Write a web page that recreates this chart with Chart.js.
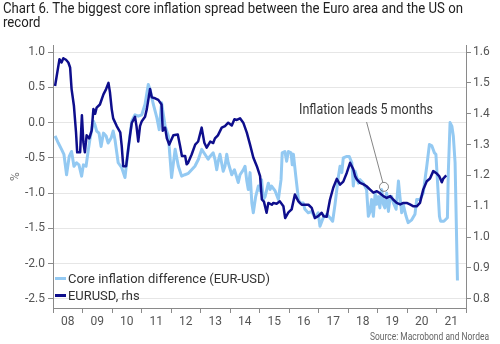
<!DOCTYPE html>
<html>
<head>
<meta charset="utf-8">
<script src="https://cdn.jsdelivr.net/npm/chart.js@4.4.0/dist/chart.umd.min.js"></script>
<style>
  html, body { margin: 0; padding: 0; background: #fff; }
  #wrap { position: relative; width: 500px; height: 344px; overflow: hidden; font-family: Roboto, 'Open Sans', sans-serif; }
  #c { position: absolute; left: 0; top: 0; }
  #title { position: absolute; left: 3px; top: 1px; font-size: 14px; line-height: 14px; color: #222; font-weight: 400; }
  #title div { white-space: nowrap; }
  .fit { display: inline-block; transform-origin: 0 50%; white-space: nowrap; }
  #legend { position: absolute; left: 55px; top: 270px; font-size: 13px; color: #333; }
  .li { display: flex; align-items: center; height: 17px; white-space: nowrap; }
  .sw { display: inline-block; width: 11px; height: 3px; margin-right: 2px; }
  #source { position: absolute; left: 370px; top: 330px; font-size: 10px; line-height: 14px; color: #666; }
</style>
</head>
<body>
<div id="wrap">
  <canvas id="c" width="500" height="344" style="width:500px;height:344px"></canvas>
  <div id="title">
    <div><span class="fit" id="t1">Chart 6. The biggest core inflation spread between the Euro area and the US on</span></div>
    <div><span class="fit" id="t2">record</span></div>
  </div>
  <div id="legend"></div>
  <div id="source"><span class="fit" id="src">Source: Macrobond and Nordea</span></div>
</div>
<script>
// ---------- data ----------
const seriesNames = ['Core inflation difference (EUR-USD)', 'EURUSD, rhs'];

// Core inflation difference, EUR minus US (%), left axis
const inflDates = [2008.07,2008.18,2008.29,2008.37,2008.46,2008.55,2008.63,2008.71,2008.80,2008.88,
  2008.97,2009.03,2009.12,2009.20,2009.25,2009.37,2009.42,2009.48,2009.56,2009.63,
  2009.71,2009.80,2009.87,2009.97,2010.04,2010.10,2010.21,2010.33,2010.44,2010.55,
  2010.67,2010.78,2010.89,2011.01,2011.12,2011.23,2011.29,2011.40,2011.52,2011.60,
  2011.68,2011.80,2011.91,2012.02,2012.14,2012.25,2012.36,2012.47,2012.59,2012.70,
  2012.81,2012.93,2013.04,2013.15,2013.26,2013.32,2013.43,2013.49,2013.55,2013.60,
  2013.66,2013.77,2013.83,2013.89,2013.94,2014.06,2014.15,2014.23,2014.28,2014.34,
  2014.45,2014.51,2014.57,2014.62,2014.68,2014.74,2014.79,2014.87,2014.96,2015.02,
  2015.07,2015.13,2015.19,2015.30,2015.36,2015.41,2015.53,2015.64,2015.73,2015.77,
  2015.86,2015.92,2015.98,2016.07,2016.11,2016.15,2016.23,2016.32,2016.37,2016.48,
  2016.54,2016.65,2016.77,2016.88,2016.99,2017.05,2017.16,2017.28,2017.39,2017.48,
  2017.56,2017.67,2017.73,2017.79,2017.84,2017.96,2018.04,2018.13,2018.18,2018.24,
  2018.29,2018.35,2018.41,2018.52,2018.63,2018.69,2018.75,2018.80,2018.86,2018.92,
  2018.97,2019.03,2019.08,2019.14,2019.20,2019.25,2019.31,2019.37,2019.42,2019.48,
  2019.54,2019.63,2019.71,2019.76,2019.82,2019.87,2019.97,2020.04,2020.16,2020.27,
  2020.33,2020.44,2020.55,2020.67,2020.76,2020.84,2020.93,2020.98,2021.03,2021.10,
  2021.14,2021.25,2021.37,2021.40,2021.46,2021.52,2021.57,2021.63,2021.71];
const inflValues = [-0.19,-0.29,-0.38,-0.45,-0.74,-0.48,-0.41,-0.62,-0.57,-0.60,
  -0.76,-0.60,-0.62,-0.38,-0.24,0.02,-0.03,-0.12,-0.15,-0.34,
  -0.15,-0.19,-0.29,-0.22,-0.12,-0.24,-0.57,-0.64,-0.78,-0.38,
  0.02,0.11,0.09,0.11,0.26,0.54,0.47,0.26,0.07,-0.10,
  0.28,-0.05,-0.19,-0.78,-0.38,-0.62,-0.76,-0.74,-0.72,-0.67,
  -0.62,-0.52,-0.38,-0.45,-0.52,-0.48,-0.43,-0.52,-0.67,-0.55,
  -0.45,-0.69,-0.62,-0.45,-0.57,-0.74,-0.67,-0.78,-0.85,-0.74,
  -0.67,-0.62,-0.83,-0.95,-0.71,-1.14,-1.28,-1.05,-0.90,-0.97,
  -0.81,-1.09,-1.05,-0.86,-0.95,-0.90,-0.97,-1.09,-0.81,-0.43,
  -0.41,-0.55,-0.41,-0.43,-0.60,-0.45,-0.76,-1.09,-1.14,-1.14,
  -1.23,-1.28,-1.26,-1.35,-1.28,-1.47,-1.35,-1.30,-1.35,-1.40,
  -1.16,-0.78,-0.62,-0.71,-0.50,-0.48,-0.48,-0.57,-0.90,-0.69,
  -0.76,-0.86,-0.81,-0.86,-0.95,-1.33,-1.26,-1.09,-1.33,-1.00,
  -1.16,-1.05,-1.21,-0.95,-1.16,-1.21,-1.00,-1.26,-1.09,-1.05,
  -1.14,-1.23,-0.83,-1.05,-1.28,-1.16,-1.33,-1.42,-1.38,-1.30,
  -1.09,-1.09,-1.00,-0.62,-0.31,-0.33,-0.43,-0.45,-0.81,-1.33,
  -1.40,-1.40,-1.35,-0.71,0.00,-0.05,-0.19,-0.57,-2.24];

// EURUSD exchange rate, right axis
const fxDates = [2008.07,2008.22,2008.29,2008.35,2008.44,2008.52,2008.58,2008.63,2008.71,2008.78,
  2008.82,2008.92,2008.98,2009.03,2009.08,2009.14,2009.23,2009.31,2009.37,2009.43,
  2009.48,2009.59,2009.71,2009.80,2009.88,2009.93,2009.99,2010.04,2010.16,2010.28,
  2010.33,2010.38,2010.48,2010.55,2010.61,2010.67,2010.78,2010.83,2010.89,2010.95,
  2011.01,2011.12,2011.18,2011.29,2011.35,2011.46,2011.57,2011.68,2011.72,2011.80,
  2011.86,2011.94,2012.08,2012.23,2012.31,2012.37,2012.48,2012.53,2012.58,2012.70,
  2012.82,2012.92,2013.04,2013.13,2013.21,2013.33,2013.43,2013.49,2013.59,2013.72,
  2013.83,2013.94,2014.06,2014.15,2014.23,2014.34,2014.45,2014.57,2014.68,2014.79,
  2014.91,2015.02,2015.08,2015.15,2015.24,2015.30,2015.42,2015.47,2015.58,2015.69,
  2015.81,2015.87,2015.98,2016.09,2016.20,2016.32,2016.43,2016.54,2016.66,2016.77,
  2016.88,2016.99,2017.11,2017.17,2017.28,2017.39,2017.50,2017.62,2017.73,2017.84,
  2017.96,2018.07,2018.18,2018.24,2018.30,2018.41,2018.53,2018.63,2018.75,2018.86,
  2018.98,2019.06,2019.20,2019.31,2019.43,2019.53,2019.65,2019.77,2019.88,2019.99,
  2020.10,2020.22,2020.33,2020.44,2020.55,2020.67,2020.78,2020.89,2021.01,2021.09,
  2021.18,2021.23,2021.33];
const fxValues = [1.49,1.577,1.566,1.58,1.575,1.566,1.55,1.48,1.425,1.34,
  1.275,1.275,1.395,1.307,1.275,1.33,1.32,1.345,1.415,1.40,
  1.42,1.43,1.463,1.48,1.50,1.47,1.415,1.385,1.36,1.34,
  1.295,1.23,1.23,1.285,1.33,1.37,1.39,1.36,1.31,1.36,
  1.376,1.39,1.415,1.48,1.453,1.45,1.445,1.43,1.345,1.355,
  1.32,1.30,1.33,1.333,1.295,1.263,1.263,1.236,1.241,1.268,
  1.30,1.31,1.355,1.306,1.29,1.31,1.305,1.32,1.33,1.355,
  1.36,1.371,1.362,1.382,1.38,1.385,1.371,1.339,1.30,1.258,
  1.23,1.198,1.122,1.115,1.079,1.111,1.105,1.111,1.108,1.116,
  1.10,1.062,1.08,1.09,1.138,1.116,1.105,1.105,1.105,1.095,
  1.062,1.068,1.079,1.068,1.066,1.122,1.16,1.189,1.17,1.18,
  1.209,1.241,1.22,1.198,1.187,1.176,1.171,1.165,1.154,1.144,
  1.149,1.144,1.133,1.127,1.133,1.122,1.111,1.106,1.111,1.111,
  1.106,1.100,1.10,1.111,1.154,1.181,1.19,1.214,1.206,1.198,
  1.178,1.19,1.20];

// tick values
const yearTicks = [2008,2009,2010,2011,2012,2013,2014,2015,2016,2017,2018,2019,2020,2021,2022];
const leftTicks = [-2.5,-2.0,-1.5,-1.0,-0.5,0.0,0.5,1.0];
const rightTicks = [0.8,0.9,1.0,1.1,1.2,1.3,1.4,1.5,1.6];

// annotation (data coordinates: year, EURUSD)
const note = { text: 'Inflation leads 5 months', x: 2018.61, y: 1.411, lineX: 2018.63, lineY: 1.373, ringX: 2019.22, ringY: 1.163 };

// ---------- style ----------
const LIGHT = '#93c9f2';
const DARK = '#0e0e8c';
const AXIS = '#8a8a8a';
const GRID = '#e6e6e6';
const TICKTXT = '#555';

// axis ranges (left and right linked: -2.5 <-> 0.8, 1.0 <-> 1.6)
const Y_MIN = -2.63, Y_MAX = 1.1;
const k = (1.6 - 0.8) / (1.0 - (-2.5));
const R_MIN = 0.8 + (Y_MIN + 2.5) * k, R_MAX = 1.6 + (Y_MAX - 1.0) * k;

Chart.defaults.font.family = "Roboto, 'Open Sans', sans-serif";
Chart.defaults.font.size = 12;

const setTicks = vals => scale => { scale.ticks = vals.map(v => ({ value: v })); };

const notePlugin = {
  id: 'note',
  afterDatasetsDraw(chart) {
    const ctx = chart.ctx, xs = chart.scales.x, ys = chart.scales.y1;
    const tx = xs.getPixelForValue(note.x), ty = ys.getPixelForValue(note.y);
    const lx = xs.getPixelForValue(note.lineX), ly = ys.getPixelForValue(note.lineY);
    const cx = xs.getPixelForValue(note.ringX), cy = ys.getPixelForValue(note.ringY);
    const r = 4.5;
    ctx.save();
    const dx = cx - lx, dy = cy - ly, d = Math.hypot(dx, dy);
    ctx.strokeStyle = '#666';
    ctx.lineWidth = 0.8;
    ctx.beginPath();
    ctx.moveTo(lx, ly);
    ctx.lineTo(cx - dx / d * r, cy - dy / d * r);
    ctx.stroke();
    ctx.beginPath();
    ctx.arc(cx, cy, r, 0, Math.PI * 2);
    ctx.stroke();
    ctx.font = "14px Roboto, 'Open Sans', sans-serif";
    ctx.fillStyle = '#333';
    ctx.textAlign = 'center';
    ctx.textBaseline = 'middle';
    const w = ctx.measureText(note.text).width;
    ctx.translate(tx, ty);
    ctx.scale(134 / w, 1);
    ctx.fillText(note.text, 0, 0);
    ctx.restore();
  }
};

const chart = new Chart(document.getElementById('c'), {
  type: 'line',
  data: {
    datasets: [
      { label: seriesNames[0], data: inflDates.map((d, i) => ({ x: d, y: inflValues[i] })), yAxisID: 'y',
        borderColor: LIGHT, backgroundColor: LIGHT, borderWidth: 3, pointRadius: 0, tension: 0, order: 2, borderJoinStyle: 'round' },
      { label: seriesNames[1], data: fxDates.map((d, i) => ({ x: d, y: fxValues[i] })), yAxisID: 'y1',
        borderColor: DARK, backgroundColor: DARK, borderWidth: 2.5, pointRadius: 0, tension: 0, order: 1, borderJoinStyle: 'round' }
    ]
  },
  options: {
    responsive: false, animation: false, devicePixelRatio: 1,
    layout: { padding: { top: 45, left: 0, right: 0, bottom: 0 } },
    plugins: { legend: { display: false }, tooltip: { enabled: false } },
    scales: {
      x: {
        type: 'linear', min: 2008, max: 2022,
        afterBuildTicks: setTicks(yearTicks),
        afterFit(s) { s.height = 36; },
        ticks: { autoSkip: false, maxRotation: 0, labelOffset: 14.75, padding: 2, color: TICKTXT,
          callback: v => (Math.round(v) >= 2022 ? '' : String(Math.round(v) % 100).padStart(2, '0')) },
        grid: { drawOnChartArea: false, drawTicks: true, tickLength: 5, tickColor: AXIS },
        border: { color: AXIS }
      },
      y: {
        position: 'left', min: Y_MIN, max: Y_MAX,
        afterBuildTicks: setTicks(leftTicks),
        afterFit(s) { s.width = 53; },
        ticks: { padding: 3, color: TICKTXT, callback: v => v.toFixed(1) },
        grid: { color: GRID, tickColor: AXIS, tickLength: 5 },
        border: { color: AXIS },
        title: { display: true, text: '%', color: '#777', font: { size: 12 }, padding: { top: 9, bottom: 0 } }
      },
      y1: {
        position: 'right', min: R_MIN, max: R_MAX,
        afterBuildTicks: setTicks(rightTicks),
        afterFit(s) { s.width = 34; },
        ticks: { padding: 2, color: TICKTXT, callback: v => v.toFixed(1) },
        grid: { drawOnChartArea: false, tickColor: AXIS, tickLength: 5 },
        border: { color: AXIS }
      }
    }
  },
  plugins: [notePlugin]
});

// legend built from the chart datasets
const legend = document.getElementById('legend');
chart.data.datasets.forEach(ds => {
  const row = document.createElement('div');
  row.className = 'li';
  const sw = document.createElement('span');
  sw.className = 'sw';
  sw.style.background = ds.borderColor;
  const t = document.createElement('span');
  t.className = 'fit lt';
  t.textContent = ds.label;
  row.appendChild(sw); row.appendChild(t);
  legend.appendChild(row);
});

// horizontally fit texts to the reference widths
function fit(el, target) {
  const w = el.getBoundingClientRect().width;
  if (w > 0) el.style.transform = 'scaleX(' + (target / w) + ')';
  return target / w;
}
const s1 = fit(document.getElementById('t1'), 460);
document.getElementById('t2').style.transform = 'scaleX(' + s1 + ')';
const lts = document.querySelectorAll('.lt');
const sl = fit(lts[0], 202);
lts[1].style.transform = 'scaleX(' + sl + ')';
fit(document.getElementById('src'), 119);
</script>
</body>
</html>
